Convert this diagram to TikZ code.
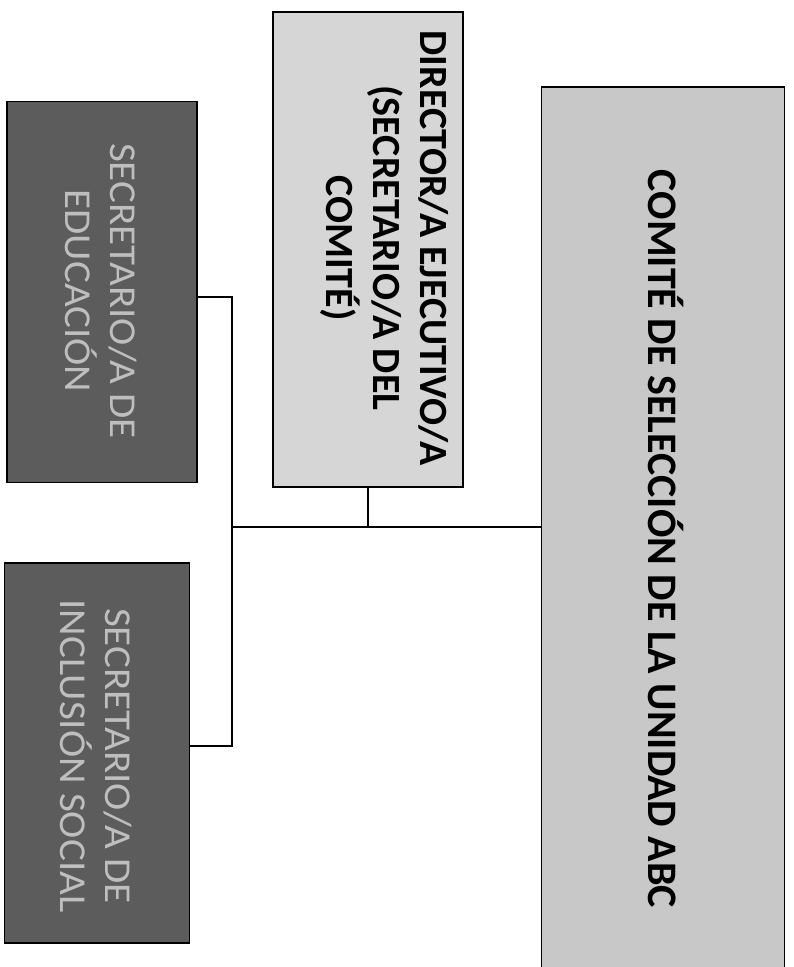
\documentclass[tikz,border=0pt]{standalone}
\usepackage{fontspec}
\setmainfont{Carlito}
\definecolor{darkbox}{RGB}{92,92,92}
\definecolor{darktext}{RGB}{190,190,190}
\definecolor{midbox}{RGB}{214,214,214}
\definecolor{bigbox}{RGB}{200,200,200}
\begin{document}
\begin{tikzpicture}[x=1pt,y=-1pt,
  box/.style={draw=black, line width=1.5pt, inner sep=0pt, outer sep=0pt},
  vtext/.style={rotate=-90, align=center, inner sep=0pt},
  conn/.style={draw=black, line width=1.5pt}]
\useasboundingbox (0,0) rectangle (793,967);
\clip (0,0) rectangle (793,967);
\fill[white] (0,0) rectangle (793,967);
% boxes
\node[box, fill=darkbox, minimum width=190pt, minimum height=381pt] (edu) at (102,292) {};
\node[box, fill=darkbox, minimum width=185pt, minimum height=380pt] (inc) at (97,753) {};
\node[box, fill=midbox, minimum width=190pt, minimum height=475pt] (dir) at (368,249.5) {};
\node[box, fill=bigbox, minimum width=243pt, minimum height=920pt] (com) at (663,547) {};
% texts
\node[vtext, text=darktext, font=\fontsize{38}{45}\selectfont\addfontfeature{FakeStretch=1.08}] (edut) at (101,291) {SECRETARIO/A DE\\EDUCACIÓN};
\node[vtext, text=darktext, font=\fontsize{38}{45}\selectfont\addfontfeature{FakeStretch=1.08}] (inct) at (96,756) {SECRETARIO/A DE\\INCLUSIÓN SOCIAL};
\node[vtext, text=black, font=\bfseries\fontsize{40}{47}\selectfont] (dirt) at (385,248) {DIRECTOR/A EJECUTIVO/A\\(SECRETARIO/A DEL\\COMITÉ)};
\node[vtext, text=black, font=\bfseries\fontsize{42}{46}\selectfont] (comt) at (666,539) {COMITÉ DE SELECCIÓN DE LA UNIDAD ABC};
% connectors
\coordinate (j) at (232,527);
\draw[conn] (edu.east |- 0,297) -| (j) |- (inc.east |- 0,746);
\draw[conn] (dir.south) -- (dir.south |- j);
\draw[conn] (j) -- (com.west |- j);
\end{tikzpicture}
\end{document}
